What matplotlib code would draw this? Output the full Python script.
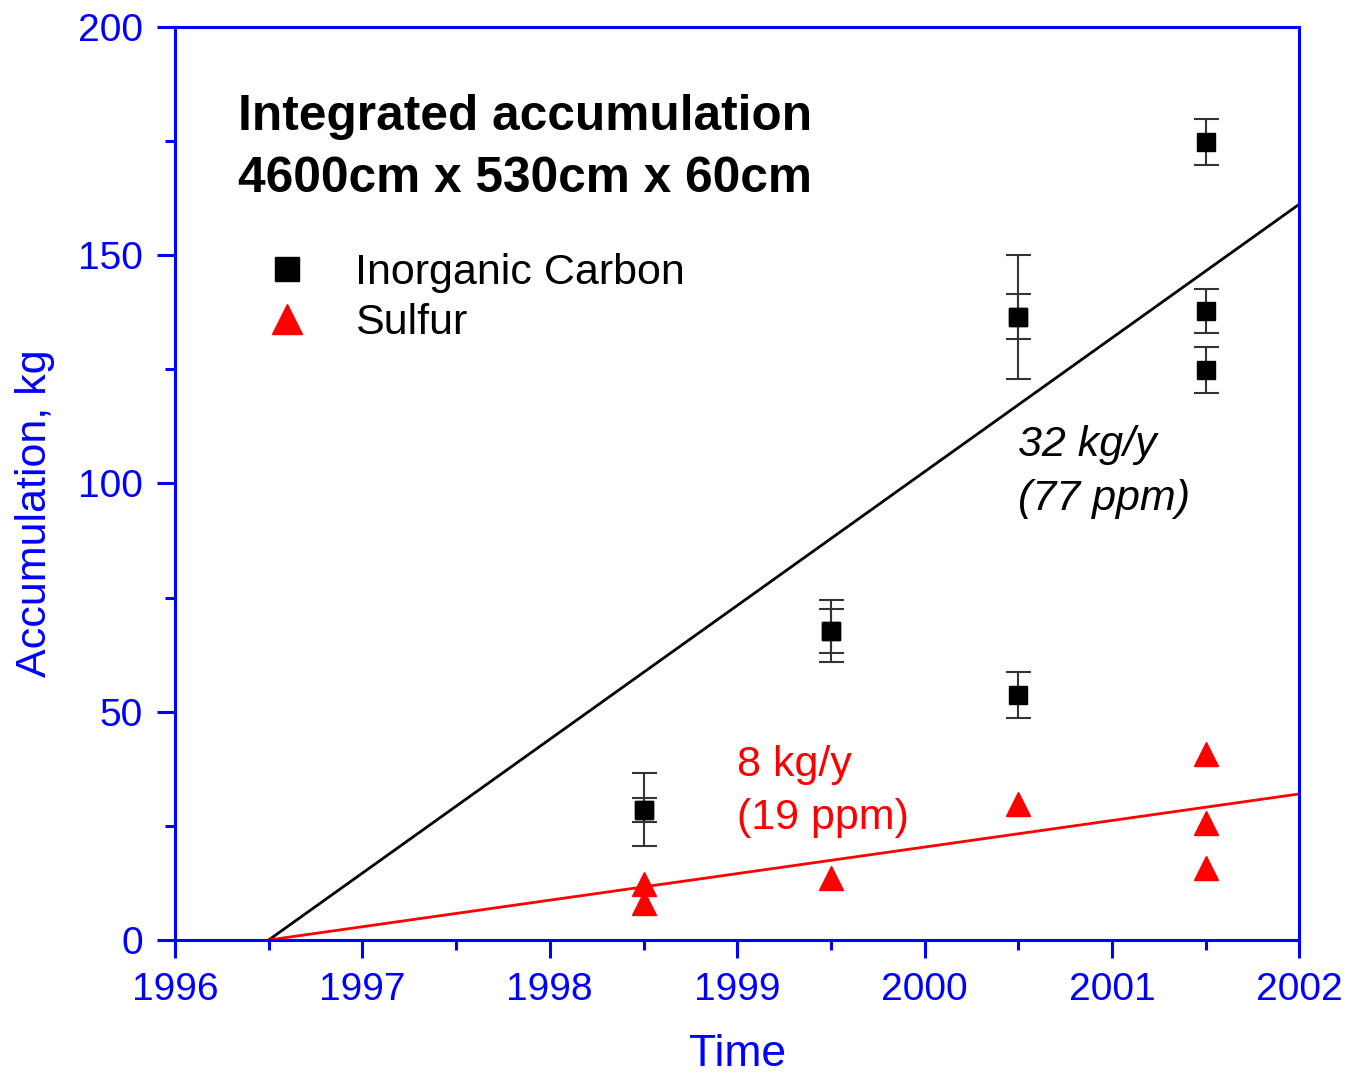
import numpy as np
import matplotlib
matplotlib.use("Agg")
import matplotlib.pyplot as plt

plt.rcParams['font.family'] = ['Liberation Sans', 'DejaVu Sans']

# data
carbon_x = [1998.5, 1998.5, 1999.5, 1999.5, 2000.5, 2000.5, 2000.5, 2001.5, 2001.5, 2001.5]
carbon_y = [28.5, 28.5, 67.7, 67.7, 136.5, 136.5, 53.7, 174.8, 137.8, 124.9]
carbon_err = [8.0, 2.7, 6.8, 4.9, 13.6, 4.9, 5.1, 5.0, 4.9, 5.0]

sulfur_x = [1998.5, 1998.5, 1999.5, 2000.5, 2001.5, 2001.5, 2001.5]
sulfur_y = [12.2, 8.1, 13.6, 29.8, 40.7, 25.6, 15.7]

fit_x = [1996.5, 2002]
carbon_fit = [0, 161.2]
sulfur_fit = [0, 32.0]

blue = '#0000ff'

fig = plt.figure(figsize=(13.49, 10.77), dpi=100)
ax = fig.add_axes([0.1297, 0.1272, 0.8336, 0.8478])

ax.plot(fit_x, carbon_fit, color='black', lw=2)
ax.plot(fit_x, sulfur_fit, color='red', lw=2)

ax.errorbar(carbon_x, carbon_y, yerr=carbon_err, fmt='none', ecolor='#333333',
            elinewidth=1.5, capsize=9, capthick=1.5, zorder=3)
ax.plot(carbon_x, carbon_y, 's', color='black', ms=13, ls='none', zorder=4,
        label='Inorganic Carbon')
ax.plot(sulfur_x, sulfur_y, '^', color='red', ms=17, ls='none', zorder=4,
        label='Sulfur')

ax.set_xlim(1996, 2002)
ax.set_ylim(0, 200)
ax.set_xticks(np.arange(1996, 2003, 1))
ax.set_xticks(np.arange(1996.5, 2002, 1), minor=True)
ax.set_yticks(np.arange(0, 201, 50))
ax.set_yticks(np.arange(25, 200, 50), minor=True)

for s in ax.spines.values():
    s.set_color(blue)
    s.set_linewidth(2.2)
ax.tick_params(which='major', length=13, width=2.2, color=blue, labelcolor=blue,
               labelsize=28, direction='out', pad=10)
ax.tick_params(which='minor', length=7, width=2.2, color=blue, direction='out')

ax.set_xlabel('Time', color=blue, fontsize=32, labelpad=19)
ax.set_ylabel('Accumulation, kg', color=blue, fontsize=31)
ax.yaxis.set_label_coords(-0.107, 0.467)

ax.text(0.056, 0.9265, 'Integrated accumulation\n4600cm x 530cm x 60cm',
        transform=ax.transAxes, fontsize=35.7, fontweight='bold', va='top',
        ha='left', linespacing=1.44)

leg = ax.legend(loc='center left', bbox_to_anchor=(0.0613, 0.703), frameon=False,
                fontsize=31, handletextpad=0.97, labelspacing=0.22,
                handlelength=1.2, borderaxespad=0, markerscale=1.3)

ax.text(2000.5, 102.5, '32 kg/y\n(77 ppm)', fontsize=31, style='italic',
        color='black', va='center', ha='left', linespacing=1.46)
ax.text(1999.0, 32.6, '8 kg/y\n(19 ppm)', fontsize=31, color='red',
        va='center', ha='left', linespacing=1.42)

fig.savefig('out.png', dpi=100)
